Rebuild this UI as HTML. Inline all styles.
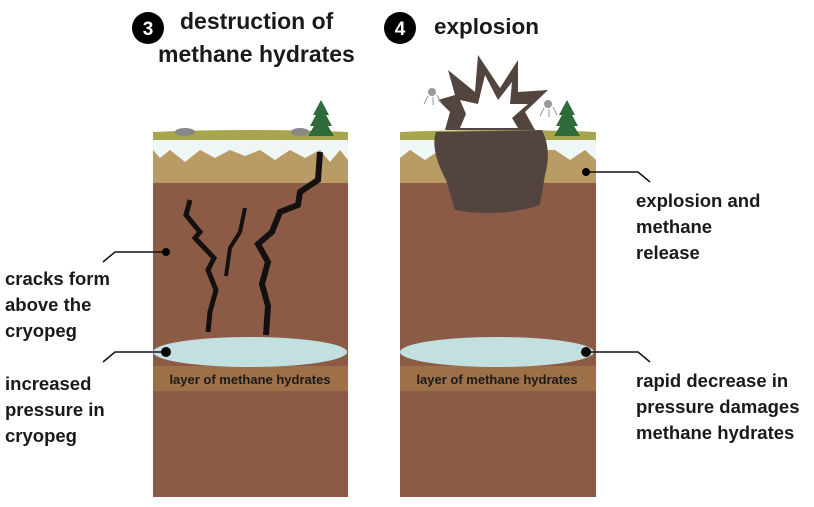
<!DOCTYPE html>
<html><head><style>
body{margin:0;width:814px;height:507px;background:#fff;overflow:hidden;position:relative;font-family:"Liberation Sans",sans-serif;}
.t{position:absolute;font-weight:bold;color:#1a1a1a;}
</style></head><body>
<svg width="814" height="507" style="position:absolute;left:0;top:0">
<rect x="153" y="140" width="195" height="357" fill="#8c5b45"/>
<rect x="153" y="140" width="195" height="43" fill="#b99c63"/>
<path d="M153 140 L348 140 L348 160 L340 150 L330 162 L320 150 L305 158 L290 150 L275 160 L260 150 L245 156 L230 150 L215 158 L200 150 L185 162 L170 150 L160 158 L153 150Z" fill="#eef6f6"/>
<path d="M153 132 Q250 128 348 132 L348 140 L153 140Z" fill="#a7a64c"/>
<ellipse cx="185" cy="132" rx="10" ry="4" fill="#888"/>
<ellipse cx="300" cy="132" rx="9" ry="4" fill="#888"/>
<path d="M321 100 L313 115 L316 115 L310 126 L314 126 L308 136 L334 136 L328 126 L332 126 L326 115 L329 115Z" fill="#2f6b3a"/>
<rect x="153" y="366" width="195" height="25" fill="#9e7048"/>
<ellipse cx="250" cy="352" rx="97" ry="15" fill="#c3e0e0"/>
<path d="M190 200 L186 215 L200 232 L195 238 L214 258 L208 270 L216 290 L210 312 L208 332" stroke="#151010" stroke-width="5" fill="none"/>
<path d="M320 152 L318 180 L300 192 L298 205 L280 212 L272 232 L258 244 L268 262 L262 284 L268 306 L266 335" stroke="#151010" stroke-width="6" fill="none"/>
<path d="M245 208 L240 232 L230 248 L226 276" stroke="#151010" stroke-width="4" fill="none"/>
<rect x="400" y="140" width="196" height="357" fill="#8c5b45"/>
<rect x="400" y="140" width="196" height="43" fill="#b99c63"/>
<path d="M400 140 L596 140 L596 160 L585 150 L570 160 L555 150 L440 150 L425 160 L410 150 L400 158Z" fill="#eef6f6"/>
<path d="M400 132 Q500 128 596 132 L596 140 L400 140Z" fill="#a7a64c"/>
<path d="M567 100 L559 115 L562 115 L556 126 L560 126 L554 136 L580 136 L574 126 L578 126 L572 115 L575 115Z" fill="#2f6b3a"/>
<path d="M448 70 L475 92 L478 55 L500 88 L518 60 L518 92 L548 90 L525 112 L535 130 L445 130 L450 112 L438 100 L455 95Z" fill="#54443f"/>
<path d="M460 100 L478 104 L485 75 L498 100 L512 82 L510 104 L528 104 L512 118 L518 128 L460 128 L466 114Z" fill="#fff"/>
<path d="M436 132 L542 130 Q552 150 545 175 L540 205 Q500 218 455 210 L446 180 Q430 150 436 132Z" fill="#54443f"/>
<circle cx="432" cy="92" r="4" fill="#999"/><circle cx="548" cy="104" r="4" fill="#999"/>
<g stroke="#999" stroke-width="1"><path d="M428 96 L424 104 M433 97 L433 105 M437 95 L441 103"/><path d="M544 108 L540 116 M549 109 L549 117 M553 107 L557 115"/></g>
<rect x="400" y="366" width="196" height="25" fill="#9e7048"/>
<ellipse cx="497" cy="352" rx="97" ry="15" fill="#c3e0e0"/>
<g stroke="#111" stroke-width="1.5" fill="none">
<path d="M103 262 L115 252 L166 252"/>
<path d="M103 362 L115 352 L166 352"/>
<path d="M586 172 L638 172 L650 182"/>
<path d="M586 352 L638 352 L650 362"/>
</g>
<g fill="#000"><circle cx="166" cy="252" r="4"/><circle cx="166" cy="352" r="5"/><circle cx="586" cy="172" r="4"/><circle cx="586" cy="352" r="5"/></g>
<circle cx="148" cy="28" r="16" fill="#000"/><circle cx="400" cy="28" r="16" fill="#000"/>
<text x="148" y="35" fill="#fff" font-size="19" font-weight="bold" text-anchor="middle" font-family="Liberation Sans">3</text>
<text x="400" y="35" fill="#fff" font-size="19" font-weight="bold" text-anchor="middle" font-family="Liberation Sans">4</text>
<text x="250" y="384" font-size="13" font-weight="bold" text-anchor="middle" fill="#1a1a1a" font-family="Liberation Sans">layer of methane hydrates</text>
<text x="497" y="384" font-size="13" font-weight="bold" text-anchor="middle" fill="#1a1a1a" font-family="Liberation Sans">layer of methane hydrates</text>
</svg>
<div class="t" style="left:180px;top:8px;font-size:23px">destruction of</div>
<div class="t" style="left:158px;top:41px;font-size:23px">methane hydrates</div>
<div class="t" style="left:434px;top:14px;font-size:22.5px">explosion</div>
<div class="t" style="left:5px;top:266px;font-size:18.5px;line-height:26px">cracks form<br>above the<br>cryopeg</div>
<div class="t" style="left:5px;top:371px;font-size:18.5px;line-height:26px">increased<br>pressure in<br>cryopeg</div>
<div class="t" style="left:636px;top:188px;font-size:18.5px;line-height:26px">explosion and<br>methane<br>release</div>
<div class="t" style="left:636px;top:368px;font-size:18.5px;line-height:26px">rapid decrease in<br>pressure damages<br>methane hydrates</div>
</body></html>
